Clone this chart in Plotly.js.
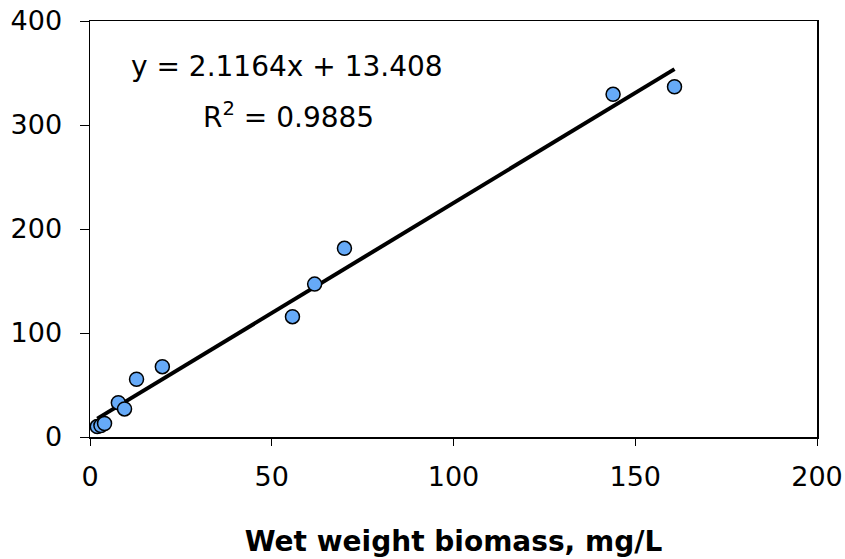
<!DOCTYPE html>
<html>
<head>
<meta charset="utf-8">
<script src="https://cdn.plot.ly/plotly-3.0.1.min.js"></script>
<style>html,body{margin:0;padding:0;background:#fff}#chart{width:845px;height:559px}</style>
</head>
<body>
<div id="chart"></div>
<script>
// Measured samples: wet weight biomass (mg/L) vs response
const biomass = [2, 3, 4, 7.8, 9.5, 12.8, 19.9, 55.7, 61.8, 70, 143.9, 160.8];
const response = [10, 11, 13, 33, 27, 55.5, 67.6, 115.7, 147, 181.4, 329.5, 336.8];

// Linear fit coefficients
const slope = 2.1164;
const intercept = 13.408;
const rSquared = 0.9885;

const xTicks = [0, 50, 100, 150, 200];
const yTicks = [0, 100, 200, 300, 400];

const xMin = Math.min(...biomass);
const xMax = Math.max(...biomass);
const fitX = [xMin, xMax];
const fitY = fitX.map(x => slope * x + intercept);

const font = "DejaVu Sans, Verdana, sans-serif";

const traces = [
  {
    x: fitX, y: fitY, mode: "lines", type: "scatter",
    line: {color: "#000", width: 4}, hoverinfo: "skip"
  },
  {
    x: biomass, y: response, mode: "markers", type: "scatter",
    marker: {size: 14, color: "#66aaf8", line: {color: "#000", width: 1.5}}
  }
];

const layout = {
  width: 845, height: 559,
  margin: {l: 90, r: 28, t: 21, b: 122},
  paper_bgcolor: "#fff", plot_bgcolor: "#fff",
  showlegend: false,
  font: {family: font, size: 27, color: "#000"},
  xaxis: {
    range: [0, 200], tickvals: xTicks, ticktext: xTicks.map(String),
    showgrid: false, zeroline: false, showline: true, mirror: true,
    linecolor: "#000", linewidth: 1.5,
    ticks: "outside", ticklen: 7, tickcolor: "#000", tickwidth: 1,
    ticklabelstandoff: 8,
    tickfont: {family: font, size: 27},
    title: {text: "<b>Wet weight biomass, mg/L</b>", font: {family: font, size: 28}, standoff: 40}
  },
  yaxis: {
    range: [0, 400], tickvals: yTicks, ticktext: yTicks.map(String),
    showgrid: false, zeroline: false, showline: true, mirror: true,
    linecolor: "#000", linewidth: 1.5,
    ticks: "outside", ticklen: 9, tickcolor: "#000", tickwidth: 1,
    ticklabelstandoff: 12,
    tickfont: {family: font, size: 27}
  },
  annotations: [
    {
      xref: "paper", yref: "paper", x: 0.053, y: 0.89,
      xanchor: "left", yanchor: "middle", showarrow: false,
      text: "y = " + slope.toFixed(4) + "x + " + intercept.toFixed(3),
      font: {family: font, size: 28}
    },
    {
      xref: "paper", yref: "paper", x: 0.152, y: 0.772,
      xanchor: "left", yanchor: "middle", showarrow: false,
      text: "R<sup>2</sup> = " + rSquared.toFixed(4),
      font: {family: font, size: 28}
    }
  ]
};

Plotly.newPlot("chart", traces, layout, {displayModeBar: false, staticPlot: true});
</script>
</body>
</html>
